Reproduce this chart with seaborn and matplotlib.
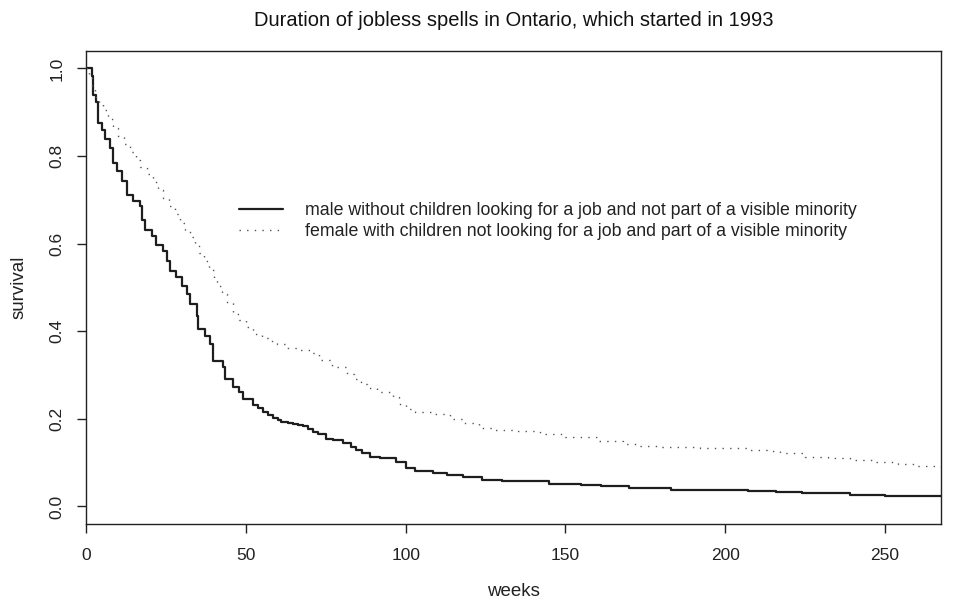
import pandas as pd
import matplotlib
matplotlib.use('Agg')
import matplotlib.pyplot as plt
import seaborn as sns

# survival curves (weeks, survival)
male_weeks = [0, 1.8, 2.3, 3.0, 3.8, 5.0, 6.0, 7.5, 8.5, 9.8, 11.2, 12.7, 14.8, 16.9,
              17.4, 18.4, 20.5, 22.0, 24.0, 25.2, 26.3, 28.3, 29.9, 31.5, 32.5, 34.6,
              35.1, 37.2, 38.7, 39.8, 42.9, 43.4, 46.0, 48.0, 49.2, 52.3, 53.9, 55.4,
              57.0, 58.5, 60.1, 61.0, 63.2, 64.8, 66.4, 68.0, 69.5, 71.0, 72.6, 75.0,
              77.3, 80.4, 83.0, 84.6, 86.2, 88.7, 92.0, 97.0, 100.0, 103.0, 108.5,
              113.0, 118.0, 124.0, 130.0, 137.7, 145.0, 155.0, 161.0, 170.0, 183.0,
              207.0, 216.0, 224.0, 239.0, 250.0, 256.5, 267.5]
male_surv = [1.0, 0.983, 0.94, 0.924, 0.875, 0.86, 0.84, 0.818, 0.784, 0.765, 0.742,
             0.712, 0.697, 0.686, 0.655, 0.632, 0.617, 0.598, 0.583, 0.56, 0.538, 0.523,
             0.504, 0.485, 0.462, 0.436, 0.405, 0.39, 0.371, 0.333, 0.318, 0.292, 0.273,
             0.261, 0.246, 0.231, 0.224, 0.216, 0.208, 0.203, 0.198, 0.193, 0.191,
             0.189, 0.186, 0.183, 0.177, 0.17, 0.165, 0.155, 0.152, 0.144, 0.135,
             0.129, 0.123, 0.114, 0.110, 0.102, 0.087, 0.080, 0.077, 0.072, 0.068,
             0.061, 0.058, 0.057, 0.052, 0.049, 0.047, 0.042, 0.038, 0.036, 0.034,
             0.030, 0.027, 0.024, 0.023, 0.023]

female_weeks = [0, 1.0, 1.8, 2.8, 4.0, 5.4, 7.0, 8.5, 10.0, 12.0, 13.7, 15.5, 17.0, 19.0,
                21.0, 22.5, 24.2, 26.0, 27.8, 29.4, 31.0, 32.5, 34.0, 35.5, 37.0, 38.5,
                40.0, 41.0, 42.5, 44.0, 46.0, 48.0, 50.0, 52.3, 55.0, 57.0, 59.6, 63.0,
                66.0, 70.0, 73.0, 77.0, 81.5, 84.0, 86.0, 88.0, 91.0, 96.0, 98.0, 100.0,
                103.0, 109.0, 114.0, 118.0, 123.0, 128.0, 135.0, 142.0, 150.0, 160.0,
                168.0, 173.0, 180.0, 192.0, 207.0, 213.0, 217.0, 225.0, 232.0, 239.0,
                247.0, 254.0, 260.0, 267.5]
female_surv = [1.0, 0.98, 0.96, 0.936, 0.92, 0.905, 0.885, 0.864, 0.845, 0.828, 0.81,
               0.79, 0.775, 0.758, 0.74, 0.722, 0.705, 0.685, 0.667, 0.648, 0.63, 0.615,
               0.598, 0.578, 0.56, 0.54, 0.52, 0.503, 0.485, 0.465, 0.44, 0.425, 0.41,
               0.394, 0.385, 0.377, 0.37, 0.362, 0.358, 0.35, 0.335, 0.318, 0.303, 0.29,
               0.28, 0.27, 0.261, 0.25, 0.235, 0.223, 0.216, 0.21, 0.2, 0.19, 0.178,
               0.175, 0.172, 0.165, 0.159, 0.15, 0.142, 0.139, 0.136, 0.133, 0.13, 0.127,
               0.123, 0.114, 0.11, 0.106, 0.101, 0.097, 0.093, 0.089]

male_label = 'male without children looking for a job and not part of a visible minority'
female_label = 'female with children not looking for a job and part of a visible minority'

x_ticks = [0, 50, 100, 150, 200, 250]
y_ticks = [0.0, 0.2, 0.4, 0.6, 0.8, 1.0]

sns.set_style('ticks')
plt.rcParams['font.family'] = ['Liberation Sans', 'DejaVu Sans']

male = pd.DataFrame({'weeks': male_weeks, 'survival': male_surv})
female = pd.DataFrame({'weeks': female_weeks, 'survival': female_surv})

fig = plt.figure(figsize=(9.59, 6.04), dpi=100)
ax = fig.add_axes([0.0897, 0.1325, 0.8915, 0.7831])

sns.lineplot(data=male, x='weeks', y='survival', ax=ax, estimator=None, sort=False,
             drawstyle='steps-post', color='#1e1e1e', linewidth=1.6, label=male_label)
sns.lineplot(data=female, x='weeks', y='survival', ax=ax, estimator=None, sort=False,
             drawstyle='steps-post', color='#555555', linewidth=1.0,
             linestyle=(0, (1, 4.5)), label=female_label)

ax.set_xlim(0, 267.5)
ax.set_ylim(-0.04, 1.04)
ax.set_xticks(x_ticks)
ax.set_xticklabels([str(t) for t in x_ticks])
ax.set_yticks(y_ticks)
ax.set_yticklabels(['%.1f' % t for t in y_ticks])
ax.tick_params(axis='both', direction='out', length=6.5, width=1, colors='#222222',
               labelsize=12.5, labelcolor='#222222')
ax.tick_params(axis='x', pad=11)
ax.tick_params(axis='y', pad=9, labelrotation=90)
for lab in ax.get_yticklabels():
    lab.set_verticalalignment('center')

for side in ['top', 'right', 'bottom', 'left']:
    ax.spines[side].set_visible(True)
    ax.spines[side].set_color('#222222')
    ax.spines[side].set_linewidth(1.0)

ax.set_xlabel('weeks', fontsize=13.5, color='#222222')
ax.set_ylabel('survival', fontsize=13.5, color='#222222')
ax.xaxis.set_label_coords(0.5, -0.124)
ax.yaxis.set_label_coords(-0.068, 0.5)
ax.set_title('Duration of jobless spells in Ontario, which started in 1993',
             fontsize=14.5, color='#111111', pad=18)

leg = ax.legend(loc='upper left', bbox_to_anchor=(0.179, 0.68), frameon=False,
                fontsize=12.8, handlelength=2.45, handletextpad=1.25, labelspacing=0.22,
                borderpad=0, borderaxespad=0)
for txt in leg.get_texts():
    txt.set_color('#222222')

fig.savefig('out.png', dpi=100)
